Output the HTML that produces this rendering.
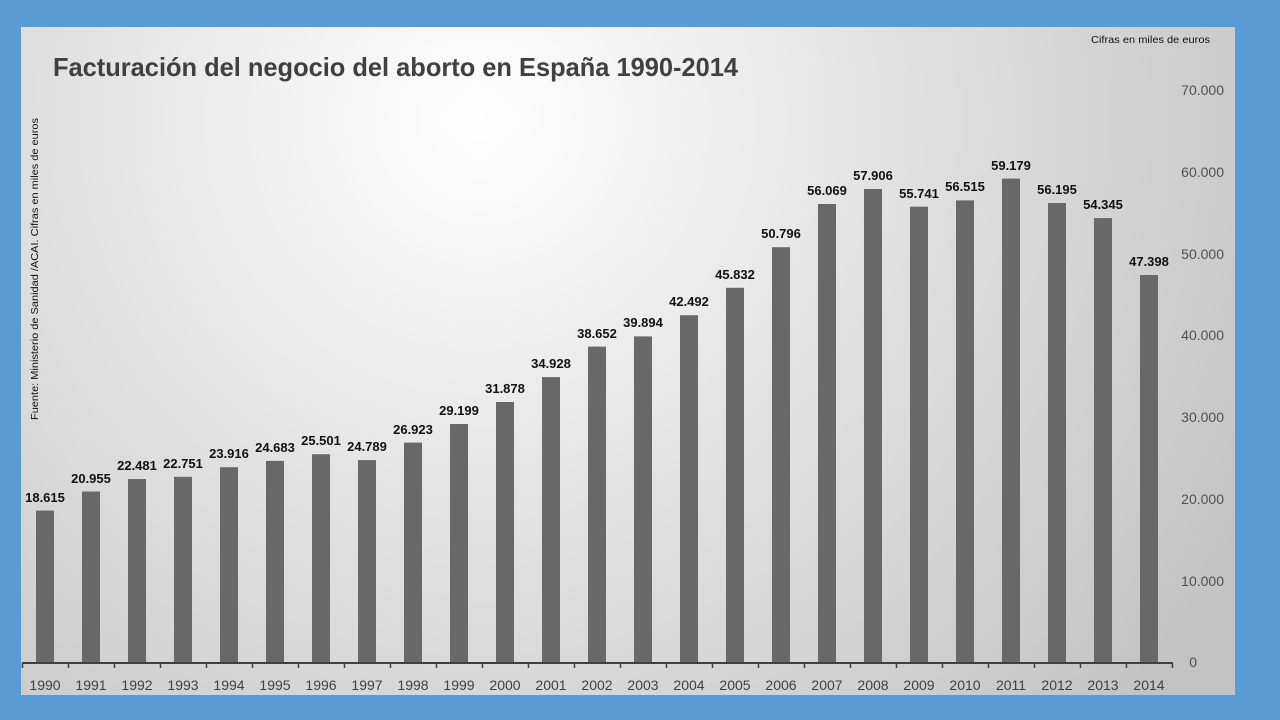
<!DOCTYPE html>
<html><head><meta charset="utf-8"><style>
html,body{margin:0;padding:0;background:#5b9bd5;}
svg{display:block;font-family:"Liberation Sans",sans-serif;}
</style></head><body>
<svg width="1280" height="720" viewBox="0 0 1280 720" xmlns="http://www.w3.org/2000/svg">
<defs>
<radialGradient id="bg" cx="480" cy="120" r="900" gradientUnits="userSpaceOnUse">
<stop offset="0" stop-color="#ffffff"/>
<stop offset="0.55" stop-color="#dcdcdc"/>
<stop offset="1" stop-color="#c2c2c2"/>
</radialGradient>
</defs>
<rect x="0" y="0" width="1280" height="720" fill="#5b9bd5"/>
<rect x="21" y="27" width="1214" height="668" fill="url(#bg)"/>
<text x="53" y="76" font-size="26" font-weight="bold" fill="#404040" textLength="685" lengthAdjust="spacingAndGlyphs">Facturación  del negocio del aborto en España 1990-2014</text>
<text x="1091" y="43" font-size="10.5" fill="#111" textLength="119" lengthAdjust="spacingAndGlyphs">Cifras en miles de euros</text>
<text transform="translate(38,420) rotate(-90)" font-size="10.5" fill="#111" textLength="302" lengthAdjust="spacingAndGlyphs">Fuente: Ministerio de Sanidad /ACAI. Cifras en miles de euros</text>
<g font-size="14" fill="#505050" text-anchor="end">
<text x="1224" y="95">70.000</text>
<text x="1224" y="177">60.000</text>
<text x="1224" y="259">50.000</text>
<text x="1224" y="340">40.000</text>
<text x="1224" y="422">30.000</text>
<text x="1224" y="504">20.000</text>
<text x="1224" y="586">10.000</text>
<text x="1197" y="667">0</text>
</g>
<g fill="#686868">
<rect x="36" y="510.6" width="18" height="152.4"/>
<rect x="82" y="491.5" width="18" height="171.5"/>
<rect x="128" y="479" width="18" height="184"/>
<rect x="174" y="476.8" width="18" height="186.2"/>
<rect x="220" y="467.2" width="18" height="195.8"/>
<rect x="266" y="460.9" width="18" height="202.1"/>
<rect x="312" y="454.2" width="18" height="208.8"/>
<rect x="358" y="460.1" width="18" height="202.9"/>
<rect x="404" y="442.6" width="18" height="220.4"/>
<rect x="450" y="424" width="18" height="239"/>
<rect x="496" y="402" width="18" height="261"/>
<rect x="542" y="377.1" width="18" height="285.9"/>
<rect x="588" y="346.6" width="18" height="316.4"/>
<rect x="634" y="336.4" width="18" height="326.6"/>
<rect x="680" y="315.2" width="18" height="347.8"/>
<rect x="726" y="287.8" width="18" height="375.2"/>
<rect x="772" y="247.2" width="18" height="415.8"/>
<rect x="818" y="204" width="18" height="459"/>
<rect x="864" y="189" width="18" height="474"/>
<rect x="910" y="206.7" width="18" height="456.3"/>
<rect x="956" y="200.4" width="18" height="462.6"/>
<rect x="1002" y="178.6" width="18" height="484.4"/>
<rect x="1048" y="203" width="18" height="460"/>
<rect x="1094" y="218.1" width="18" height="444.9"/>
<rect x="1140" y="275" width="18" height="388"/>
</g>
<g font-size="13" font-weight="bold" fill="#111" text-anchor="middle">
<text x="45" y="502">18.615</text>
<text x="91" y="483">20.955</text>
<text x="137" y="470">22.481</text>
<text x="183" y="468">22.751</text>
<text x="229" y="458">23.916</text>
<text x="275" y="452">24.683</text>
<text x="321" y="445">25.501</text>
<text x="367" y="451">24.789</text>
<text x="413" y="434">26.923</text>
<text x="459" y="415">29.199</text>
<text x="505" y="393">31.878</text>
<text x="551" y="368">34.928</text>
<text x="597" y="338">38.652</text>
<text x="643" y="327">39.894</text>
<text x="689" y="306">42.492</text>
<text x="735" y="279">45.832</text>
<text x="781" y="238">50.796</text>
<text x="827" y="195">56.069</text>
<text x="873" y="180">57.906</text>
<text x="919" y="198">55.741</text>
<text x="965" y="191">56.515</text>
<text x="1011" y="170">59.179</text>
<text x="1057" y="194">56.195</text>
<text x="1103" y="209">54.345</text>
<text x="1149" y="266">47.398</text>
</g>
<g stroke="#404040" stroke-width="2">
<line x1="22" y1="663" x2="1173" y2="663"/>
</g>
<g stroke="#404040" stroke-width="1.5">
<line x1="22.5" y1="663" x2="22.5" y2="668"/><line x1="68.5" y1="663" x2="68.5" y2="668"/><line x1="114.5" y1="663" x2="114.5" y2="668"/><line x1="160.5" y1="663" x2="160.5" y2="668"/><line x1="206.5" y1="663" x2="206.5" y2="668"/><line x1="252.5" y1="663" x2="252.5" y2="668"/><line x1="298.5" y1="663" x2="298.5" y2="668"/><line x1="344.5" y1="663" x2="344.5" y2="668"/><line x1="390.5" y1="663" x2="390.5" y2="668"/><line x1="436.5" y1="663" x2="436.5" y2="668"/><line x1="482.5" y1="663" x2="482.5" y2="668"/><line x1="528.5" y1="663" x2="528.5" y2="668"/><line x1="574.5" y1="663" x2="574.5" y2="668"/><line x1="620.5" y1="663" x2="620.5" y2="668"/><line x1="666.5" y1="663" x2="666.5" y2="668"/><line x1="712.5" y1="663" x2="712.5" y2="668"/><line x1="758.5" y1="663" x2="758.5" y2="668"/><line x1="804.5" y1="663" x2="804.5" y2="668"/><line x1="850.5" y1="663" x2="850.5" y2="668"/><line x1="896.5" y1="663" x2="896.5" y2="668"/><line x1="942.5" y1="663" x2="942.5" y2="668"/><line x1="988.5" y1="663" x2="988.5" y2="668"/><line x1="1034.5" y1="663" x2="1034.5" y2="668"/><line x1="1080.5" y1="663" x2="1080.5" y2="668"/><line x1="1126.5" y1="663" x2="1126.5" y2="668"/><line x1="1172.5" y1="663" x2="1172.5" y2="668"/>
</g>
<g font-size="14" fill="#404040" text-anchor="middle">
<text x="45" y="690">1990</text><text x="91" y="690">1991</text><text x="137" y="690">1992</text><text x="183" y="690">1993</text><text x="229" y="690">1994</text><text x="275" y="690">1995</text><text x="321" y="690">1996</text><text x="367" y="690">1997</text><text x="413" y="690">1998</text><text x="459" y="690">1999</text><text x="505" y="690">2000</text><text x="551" y="690">2001</text><text x="597" y="690">2002</text><text x="643" y="690">2003</text><text x="689" y="690">2004</text><text x="735" y="690">2005</text><text x="781" y="690">2006</text><text x="827" y="690">2007</text><text x="873" y="690">2008</text><text x="919" y="690">2009</text><text x="965" y="690">2010</text><text x="1011" y="690">2011</text><text x="1057" y="690">2012</text><text x="1103" y="690">2013</text><text x="1149" y="690">2014</text>
</g>
</svg>
</body></html>
